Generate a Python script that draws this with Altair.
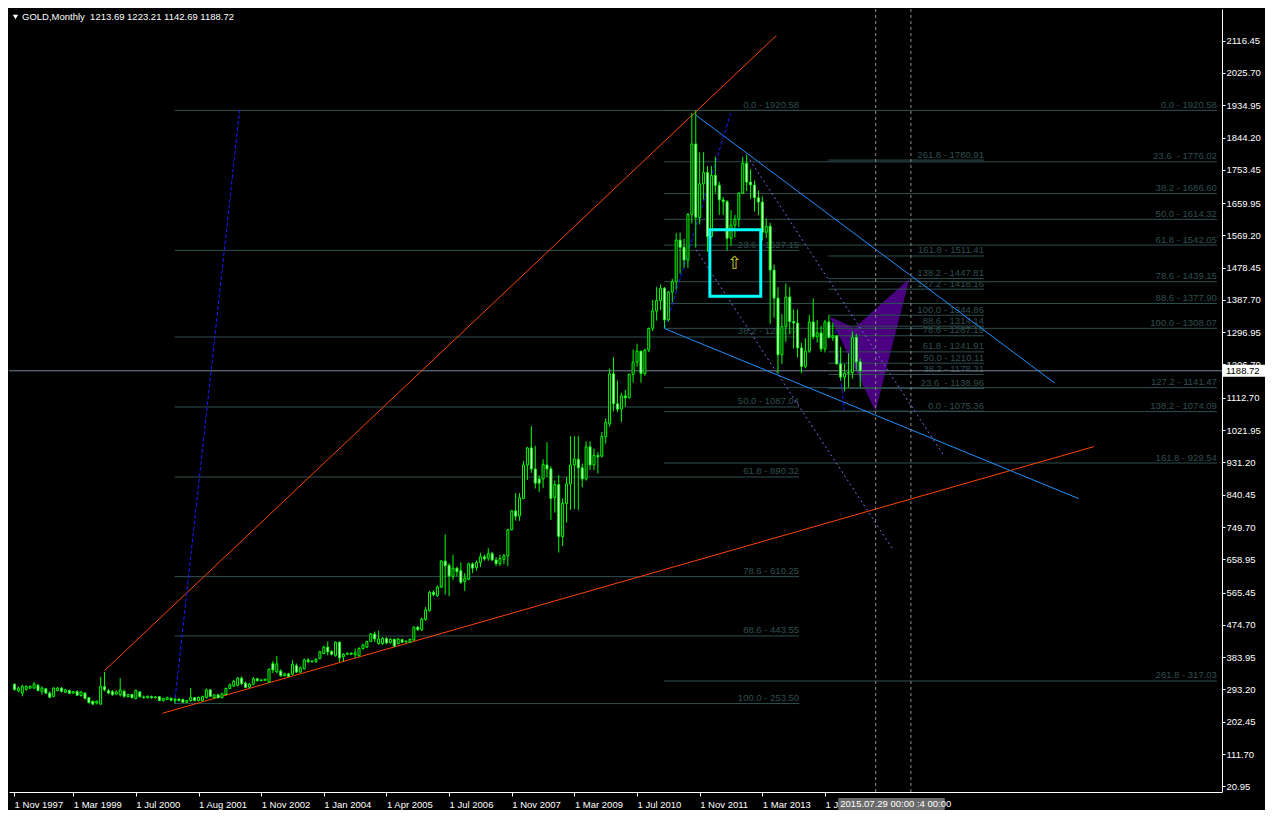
import altair as alt
import numpy as np
import pandas as pd

# ---------------- chart geometry ----------------
W, H = 1213, 783
X_DOMAIN = [-0.125, 307.125]      # bar index range shown
Y_DOMAIN = [5.0, 2205.5]          # price range shown
FONT = "Liberation Sans"

# ---------------- monthly OHLC (bar index 0..216) ----------------
OPEN = [308, 290, 283, 293, 297, 297, 305, 288, 295, 283,
        274, 290, 297, 285, 290, 283, 288, 276, 283, 270,
        260, 255, 252, 301, 290, 287, 280, 279, 288, 273,
        279, 268, 286, 272, 270, 273, 270, 273, 262, 265,
        268, 262, 266, 265, 257, 262, 270, 262, 262, 270,
        292, 270, 278, 270, 279, 296, 303, 305, 325, 311,
        300, 308, 323, 318, 319, 314, 366, 343, 345, 332,
        337, 336, 360, 342, 351, 376, 371, 372, 380, 394,
        412, 400, 389, 426, 385, 392, 395, 391, 388, 408,
        412, 428, 449, 422, 422, 436, 425, 434, 422, 433,
        427, 426, 432, 468, 461, 490, 515, 566, 557, 581,
        654, 642, 611, 634, 627, 596, 603, 646, 636, 650,
        666, 662, 675, 657, 647, 659, 669, 742, 795, 781,
        830, 924, 972, 913, 885, 885, 924, 913, 832, 869,
        723, 816, 871, 924, 940, 916, 885, 975, 924, 951,
        949, 1004, 1040, 1180, 1096, 1081, 1118, 1113, 1179, 1213,
        1244, 1181, 1247, 1308, 1357, 1386, 1421, 1332, 1410, 1439,
        1556, 1536, 1500, 1628, 1826, 1620, 1714, 1746, 1566, 1738,
        1710, 1669, 1664, 1561, 1598, 1615, 1688, 1772, 1719, 1711,
        1675, 1663, 1578, 1595, 1472, 1393, 1234, 1313, 1396, 1327,
        1323, 1253, 1201, 1244, 1326, 1284, 1295, 1250, 1326, 1282,
        1287, 1208, 1171, 1182, 1184, 1283, 1213.69]
HIGH = [310, 302, 306, 305, 304, 314, 308, 302, 297, 288,
        299, 300, 300, 295, 293, 289, 290, 288, 286, 272,
        262, 262, 328, 342, 295, 292, 290, 325, 293, 281,
        281, 293, 288, 276, 276, 276, 275, 275, 270, 273,
        271, 270, 268, 267, 264, 297, 272, 273, 276, 296,
        294, 280, 280, 284, 298, 310, 320, 328, 330, 315,
        312, 328, 326, 322, 323, 352, 373, 387, 350, 340,
        340, 375, 366, 358, 380, 382, 375, 381, 402, 416,
        428, 403, 428, 428, 395, 397, 397, 408, 412, 422,
        430, 452, 456, 458, 440, 440, 437, 436, 438, 436,
        431, 437, 470, 472, 495, 525, 570, 572, 585, 657,
        729, 648, 672, 638, 650, 620, 650, 650, 656, 677,
        672, 690, 680, 665, 672, 674, 745, 798, 845, 845,
        935, 975, 1033, 978, 895, 940, 988, 920, 880, 896,
        830, 890, 1005, 1005, 1005, 928, 990, 990, 970, 960,
        1017, 1055, 1195, 1227, 1161, 1127, 1135, 1180, 1249, 1265,
        1245, 1250, 1310, 1388, 1424, 1431, 1424, 1413, 1447, 1576,
        1577, 1560, 1632, 1913, 1920.58, 1803, 1803, 1764, 1764, 1791,
        1720, 1677, 1668, 1640, 1627, 1691, 1790, 1796, 1755, 1723,
        1696, 1679, 1617, 1605, 1487, 1424, 1348, 1434, 1424, 1361,
        1361, 1267, 1280, 1346, 1392, 1331, 1315, 1332, 1345, 1324,
        1288, 1256, 1208, 1238, 1300, 1293, 1223.21]
LOW = [290, 285, 274, 290, 294, 295, 288, 279, 280, 269,
       271, 288, 285, 283, 280, 281, 275, 273, 265, 254,
       250, 251, 250, 288, 280, 275, 278, 274, 270, 271,
       268, 265, 270, 268, 268, 267, 268, 260, 259, 263,
       260, 253.5, 259, 255, 255, 259, 260, 260, 260, 268,
       272, 268, 268, 268, 277, 294, 300, 302, 305, 297,
       297, 305, 315, 316, 317, 312, 339, 339, 329, 330,
       328, 334, 340, 339, 349, 368, 369, 368, 378, 392,
       389, 389, 385, 371, 371, 390, 390, 382, 385, 405,
       410, 426, 426, 419, 419, 420, 422, 412, 420, 424,
       425, 424, 430, 458, 458, 486, 512, 555, 553, 578,
       560, 555, 600, 611, 590, 570, 600, 620, 627, 637,
       655, 655, 655, 640, 640, 645, 640, 740, 768, 767,
       828, 882, 902, 858, 848, 860, 890, 770, 790, 678,
       696, 762, 798, 800, 798, 862, 880, 910, 910, 900,
       945, 984, 1032, 1075, 1073, 1045, 1088, 1111, 1156, 1200,
       1155, 1175, 1241, 1300, 1330, 1360, 1308.07, 1327, 1381, 1417,
       1462, 1478, 1478, 1603, 1535, 1600, 1670, 1523, 1563, 1689,
       1627, 1627, 1527, 1540, 1564, 1592, 1685, 1693, 1672, 1636,
       1626, 1555, 1562, 1321, 1338, 1180, 1208, 1270, 1292, 1251,
       1226, 1182, 1196, 1239, 1277, 1268, 1241, 1240, 1280, 1273,
       1206, 1161, 1131, 1142, 1167, 1191, 1142.69]
CLOSE = [293, 297, 302, 302, 302, 308, 290, 297, 283, 271,
         297, 297, 288, 292, 282, 287, 277, 286, 268, 256,
         252, 260, 302, 292, 283, 279, 286, 292, 274, 279,
         270, 290, 273, 270, 274, 270, 272, 262, 268, 270,
         263, 266, 262, 257, 262, 270, 262, 271, 273, 292,
         274, 278, 270, 281, 296, 306, 316, 325, 310, 299,
         308, 323, 318, 320, 322, 350, 348, 365, 332, 337,
         330, 364, 342, 354, 376, 371, 373, 378, 399, 412,
         399, 392, 426, 382, 392, 395, 392, 396, 408, 418,
         428, 449, 435, 435, 437, 424, 434, 415, 435, 426,
         429, 434, 468, 461, 491, 517, 566, 560, 581, 654,
         641, 612, 634, 624, 594, 606, 646, 634, 650, 666,
         660, 675, 657, 647, 661, 669, 742, 795, 780, 832,
         924, 972, 913, 873, 873, 926, 913, 830, 869, 723,
         816, 871, 924, 941, 916, 885, 975, 924, 951, 947,
         1004, 1044, 1180, 1096, 1081, 1118, 1113, 1179, 1213, 1244,
         1181, 1247, 1308, 1357, 1386, 1421, 1332, 1410, 1439, 1556,
         1536, 1500, 1628, 1826, 1620, 1714, 1746, 1566, 1738, 1710,
         1669, 1664, 1561, 1598, 1615, 1688, 1772, 1719, 1711, 1675,
         1663, 1578, 1595, 1472, 1393, 1234, 1313, 1396, 1327, 1323,
         1253, 1201, 1244, 1326, 1284, 1295, 1250, 1326, 1282, 1287,
         1208, 1171, 1182, 1184, 1283, 1213.69, 1188.72]

TITLE = "GOLD,Monthly\u00a0\u00a01213.69 1223.21 1142.69 1188.72"
CUR_PRICE = 1188.72

# ---------------- axes ----------------
X_TICK_BARS = [-0.1, 15, 31, 47, 63, 79, 95, 111, 127, 143, 159, 175, 191, 207]
X_TICK_LABELS = ["1 Nov 1997", "1 Mar 1999", "1 Jul 2000", "1 Aug 2001", "1 Nov 2002",
                 "1 Jan 2004", "1 Apr 2005", "1 Jul 2006", "1 Nov 2007", "1 Mar 2009",
                 "1 Jul 2010", "1 Nov 2011", "1 Mar 2013", "1 Jul 2014"]
Y_TICKS = [20.95, 111.70, 202.45, 293.20, 383.95, 474.70, 565.45, 658.95, 749.70,
           840.45, 931.20, 1021.95, 1112.70, 1206.70, 1296.95, 1387.70, 1478.45,
           1569.20, 1659.95, 1753.45, 1844.20, 1934.95, 2025.70, 2116.45]

# ---------------- Fibonacci objects ----------------
FIB_A_LEVELS = ["0.0", "23.6", "38.2", "50.0", "61.8", "78.6", "88.6", "100.0"]
FIB_A_PRICES = [1920.58, 1527.15, 1283.74, 1087.04, 890.32, 610.25, 443.55, 253.50]
FIB_A_SPAN = [40.9, 200.4]

FIB_B_LEVELS = ["261.8", "161.8", "138.2", "127.2", "100.0", "88.6", "78.6", "61.8",
                "50.0", "38.2", "23.6\u00a0", "0.0"]
FIB_B_PRICES = [1780.91, 1511.41, 1447.81, 1418.16, 1344.86, 1314.14, 1287.19, 1241.91,
                1210.11, 1178.31, 1138.96, 1075.36]
FIB_B_SPAN = [207.9, 247.6]

FIB_C_LEVELS = ["0.0", "23.6\u00a0", "38.2", "50.0", "61.8", "78.6", "88.6", "100.0",
                "127.2", "138.2", "161.8", "261.8"]
FIB_C_PRICES = [1920.58, 1776.02, 1686.60, 1614.32, 1542.05, 1439.15, 1377.90, 1308.07,
                1141.47, 1074.09, 929.54, 317.03]
FIB_C_SPAN = [165.9, 307.1]

# ---------------- drawn trend lines (bar, price) ----------------
ORANGE_X1 = [22.95, 37.8]
ORANGE_Y1 = [345.7, 226.3]
ORANGE_X2 = [194.6, 275.7]
ORANGE_Y2 = [2131.0, 975.7]

BLUE_X1 = [174.05, 166.1]
BLUE_Y1 = [1907.0, 1307.0]
BLUE_X2 = [265.7, 271.8]
BLUE_Y2 = [1154.0, 829.5]

DASH_X1 = [40.9, 166.1, 209.7]
DASH_Y1 = [253.5, 1308.0, 1304.0]
DASH_X2 = [57.5, 182.9, 211.9]
DASH_Y2 = [1921.0, 1912.0, 1079.0]

DOT_X1 = [174.1, 187.8]
DOT_Y1 = [1529.0, 1782.0]
DOT_X2 = [224.3, 237.4]
DOT_Y2 = [688.0, 950.0]

# harmonic pattern vertices X, B, A, C
PAT_X = {"X": 208.2, "B": 214.5, "A": 219.9, "C": 228.6}
PAT_P = {"X": 1341.0, "B": 1309.0, "A": 1076.0, "C": 1448.0}

BOX_BARS = [177.6, 190.6]
BOX_PRICES = [1398.0, 1585.0]
ARROW_BAR, ARROW_PRICE = 184.0, 1488.0
VLINE_BARS = [219.95, 228.95]
DATE_BOX_BARS = [210.4, 237.6]
DATE_TEXT = "2015.07.29 00:00 :4 00:00"

# ---------------- scales / axes ----------------
xs = alt.Scale(domain=X_DOMAIN, nice=False, zero=False)
ys = alt.Scale(domain=Y_DOMAIN, nice=False, zero=False)

lab_arr = "[" + ",".join("'%s'" % s for s in X_TICK_LABELS) + "]"
val_arr = "[" + ",".join(str(v) for v in X_TICK_BARS) + "]"
AX_X = alt.Axis(values=X_TICK_BARS, labelExpr=f"{lab_arr}[indexof({val_arr}, datum.value)]",
                orient="bottom", grid=False, title=None, labelAlign="left", labelFlush=False,
                labelOverlap=False, labelColor="white", labelFont=FONT, labelFontSize=9.5,
                labelPadding=3, tickColor="white", tickSize=4, domainColor="white",
                labelBaseline="top")
AX_Y = alt.Axis(values=Y_TICKS, format=".2f", orient="right", grid=False, title=None,
                labelOverlap=False, labelColor="white", labelFont=FONT, labelFontSize=9.5,
                labelPadding=1, tickColor="white", tickSize=3, domainColor="white",
                labelFlush=False)


def X(f):
    return alt.X(f, type="quantitative", scale=xs, axis=AX_X, title=None)


def Y(f):
    return alt.Y(f, type="quantitative", scale=ys, axis=AX_Y, title=None)


# ---------------- data frames ----------------
n = len(OPEN)
candles = pd.DataFrame({"bar": np.arange(n), "o": OPEN, "h": HIGH, "l": LOW, "c": CLOSE})
candles["body"] = np.where(candles["c"] < candles["o"], "white", "black")

fib_rows = []
for levels, prices, span in [(FIB_A_LEVELS, FIB_A_PRICES, FIB_A_SPAN),
                             (FIB_B_LEVELS, FIB_B_PRICES, FIB_B_SPAN),
                             (FIB_C_LEVELS, FIB_C_PRICES, FIB_C_SPAN)]:
    for lv, p in zip(levels, prices):
        fib_rows.append({"x1": span[0], "x2": span[1], "p": p,
                         "label": f"{lv} - {p:.2f}"})
fib = pd.DataFrame(fib_rows)


def seg_df(x1, y1, x2, y2):
    return pd.DataFrame({"x1": x1, "y1": y1, "x2": x2, "y2": y2})


orange = seg_df(ORANGE_X1, ORANGE_Y1, ORANGE_X2, ORANGE_Y2)
blue = seg_df(BLUE_X1, BLUE_Y1, BLUE_X2, BLUE_Y2)
dashed = seg_df(DASH_X1, DASH_Y1, DASH_X2, DASH_Y2)
dotted = seg_df(DOT_X1, DOT_Y1, DOT_X2, DOT_Y2)

# polygon X-B-C-A as an area between upper (X-B-C) and lower (X-A-C) edges
bx = np.array(sorted(PAT_X.values()))
top = np.interp(bx, [PAT_X["X"], PAT_X["B"], PAT_X["C"]], [PAT_P["X"], PAT_P["B"], PAT_P["C"]])
bot = np.interp(bx, [PAT_X["X"], PAT_X["A"], PAT_X["C"]], [PAT_P["X"], PAT_P["A"], PAT_P["C"]])
pattern = pd.DataFrame({"bx": bx, "top": top, "bot": bot})

one = pd.DataFrame({"k": [0]})

# ---------------- layers ----------------
pat_layer = alt.Chart(pattern).mark_area(color="#4B0082", opacity=1, interpolate="linear").encode(
    x=X("bx"), y=Y("top"), y2="bot")

fib_lines = alt.Chart(fib).mark_rule(color="#2F4F4F", strokeWidth=1).encode(
    x=X("x1"), x2="x2", y=Y("p"))
fib_text = alt.Chart(fib).mark_text(color="#2F4F4F", font=FONT, fontSize=9.5, align="right",
                                    baseline="alphabetic", dy=-2.5).encode(
    x=X("x2"), y=Y("p"), text="label:N")

cur_line = alt.Chart(pd.DataFrame({"p": [CUR_PRICE]})).mark_rule(
    color="#778899", strokeWidth=1).encode(y=Y("p"))

orange_l = alt.Chart(orange).mark_rule(color="#FF4500", strokeWidth=1).encode(
    x=X("x1"), y=Y("y1"), x2="x2", y2="y2")
blue_l = alt.Chart(blue).mark_rule(color="#1E90FF", strokeWidth=1).encode(
    x=X("x1"), y=Y("y1"), x2="x2", y2="y2")
dash_l = alt.Chart(dashed).mark_rule(color="#1a1aff", strokeWidth=1, strokeDash=[4, 2]).encode(
    x=X("x1"), y=Y("y1"), x2="x2", y2="y2")
dot_l = alt.Chart(dotted).mark_rule(color="#7B68EE", strokeWidth=1, strokeDash=[2, 3]).encode(
    x=X("x1"), y=Y("y1"), x2="x2", y2="y2")

wicks = alt.Chart(candles).mark_rule(color="#00FF00", strokeWidth=1).encode(
    x=X("bar"), y=Y("l"), y2="h")
bodies = alt.Chart(candles).mark_bar(width=2, stroke="#00FF00", strokeWidth=1).encode(
    x=X("bar"), y=Y("o"), y2="c", fill=alt.Fill("body:N", scale=None))

box = alt.Chart(pd.DataFrame({"x1": [BOX_BARS[0]], "x2": [BOX_BARS[1]],
                              "y1": [BOX_PRICES[0]], "y2": [BOX_PRICES[1]]})).mark_rect(
    fill=None, fillOpacity=0, stroke="#00FFFF", strokeWidth=3).encode(
    x=X("x1"), x2="x2", y=Y("y1"), y2="y2")
arrow = alt.Chart(pd.DataFrame({"b": [ARROW_BAR], "p": [ARROW_PRICE]})).mark_text(
    text="\u21e7", color="#C8C832", font="DejaVu Sans", fontSize=18, baseline="middle").encode(
    x=X("b"), y=Y("p"))

vlines = alt.Chart(pd.DataFrame({"b": VLINE_BARS})).mark_rule(
    color="#8c8c8c", strokeWidth=1, strokeDash=[3, 3]).encode(x=X("b"))

tri = alt.Chart(one).mark_point(shape="triangle-down", filled=True, color="white", size=28,
                                opacity=1).encode(x=alt.value(6.5), y=alt.value(8))
title = alt.Chart(one).mark_text(text=TITLE, color="white", font=FONT, fontSize=9.5,
                                 align="left", baseline="middle").encode(
    x=alt.value(13), y=alt.value(8))

pbox = alt.Chart(pd.DataFrame({"p": [CUR_PRICE]})).mark_rect(height=12, fill="white").encode(
    y=Y("p"), x=alt.value(W + 1), x2=alt.value(W + 43))
ptext = alt.Chart(pd.DataFrame({"p": [CUR_PRICE], "t": [f"{CUR_PRICE:.2f}"]})).mark_text(
    color="black", font=FONT, fontSize=9.5, align="left", baseline="middle").encode(
    y=Y("p"), x=alt.value(W + 4), text="t:N")

dbox = alt.Chart(pd.DataFrame({"x1": [DATE_BOX_BARS[0]], "x2": [DATE_BOX_BARS[1]]})).mark_rect(
    fill="#6b6b6b").encode(x=X("x1"), x2="x2", y=alt.value(H + 6), y2=alt.value(H + 18))
dtext = alt.Chart(pd.DataFrame({"x1": [DATE_BOX_BARS[0]], "t": [DATE_TEXT]})).mark_text(
    color="white", font=FONT, fontSize=9.5, align="left", baseline="middle", dx=2).encode(
    x=X("x1"), y=alt.value(H + 12), text="t:N")

chart = alt.layer(
    pat_layer, fib_lines, fib_text, cur_line, orange_l, blue_l, dash_l, dot_l,
    wicks, bodies, box, arrow, vlines, tri, title, pbox, ptext, dbox, dtext
).properties(
    width=W, height=H, background="black", padding=0
).configure_view(stroke=None, fill="black")

chart.save("out.html", embed_options={"renderer": "svg", "actions": False})
